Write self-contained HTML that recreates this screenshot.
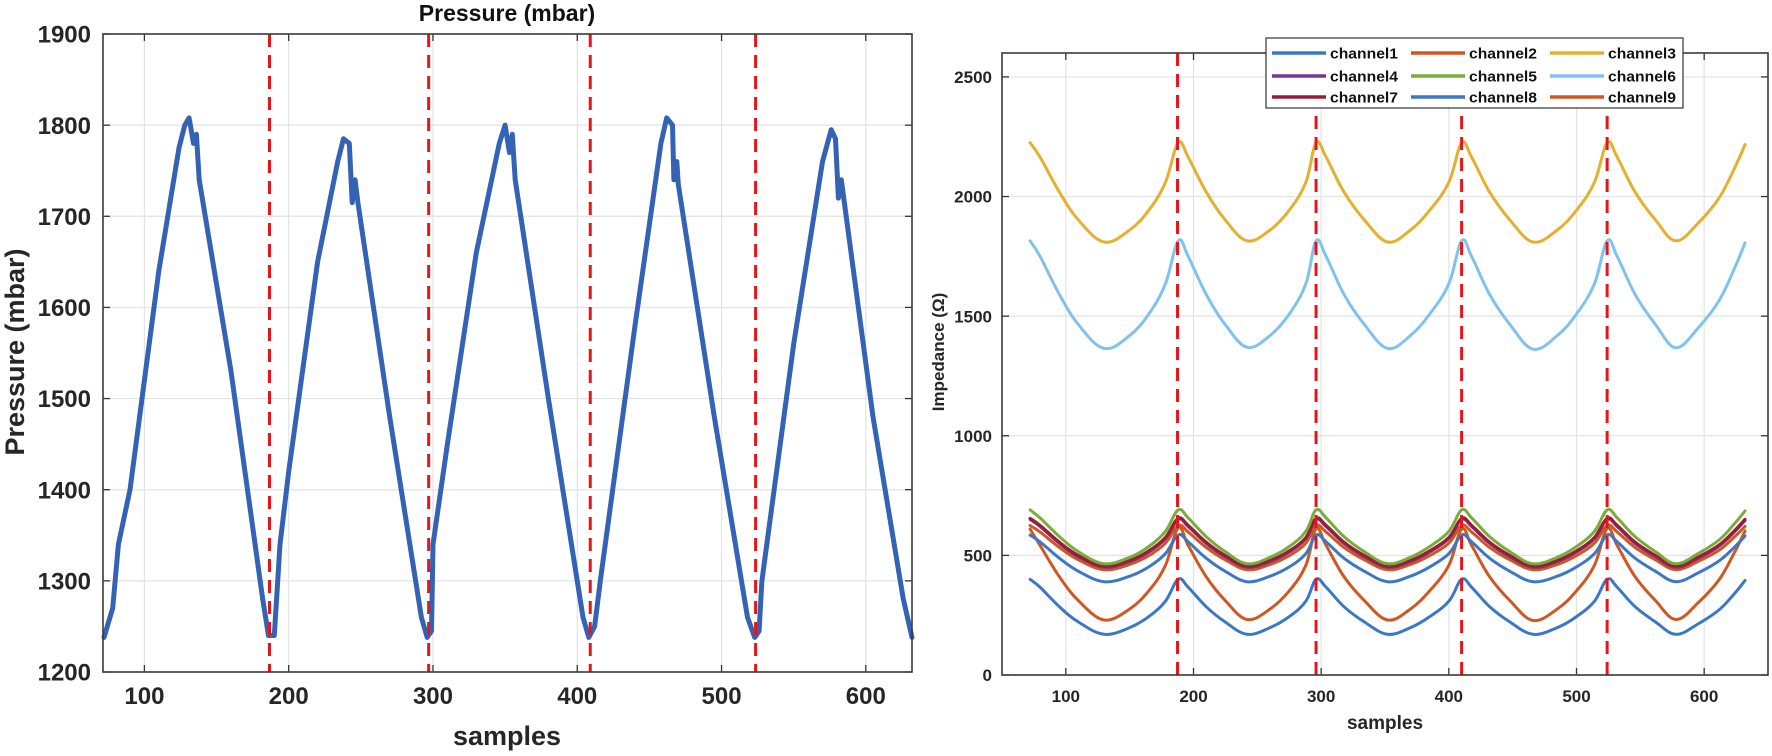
<!DOCTYPE html>
<html><head><meta charset="utf-8"><style>
html,body{margin:0;padding:0;background:#fff;}
svg{display:block;font-family:"Liberation Sans",Arial,sans-serif;}
</style></head><body>
<svg id="chart" width="1772" height="756" viewBox="0 0 1772 756"></svg>
<script>
// ---------- Left chart data ----------
const pressX=[72,78,82,90,110,124,128,131,134,136,138,160,182,186,190,194,200,220,234,238,242,244,246,248,270,292,296,299,300,310,330,346,350,353,355,357,380,404,408,412,416,440,458,462,466,467,469,470,495,518,523,526,528,550,570,576,579,581,583,605,626,632];
const pressY=[1238,1270,1340,1400,1640,1775,1800,1808,1780,1790,1740,1530,1280,1240,1240,1340,1420,1650,1760,1785,1780,1715,1740,1715,1480,1260,1238,1245,1340,1450,1660,1780,1800,1770,1790,1740,1500,1260,1238,1250,1300,1580,1780,1808,1800,1740,1760,1735,1480,1260,1238,1245,1300,1560,1760,1795,1785,1720,1740,1480,1280,1238];
const leftMarkers=[186.7,297,409,523.6];
const leftXTicks=[100,200,300,400,500,600];
const leftYTicks=[1200,1300,1400,1500,1600,1700,1800,1900];
// ---------- Right chart data ----------
const impX=[72,80,95,110,130,150,165,178,188,196,210,225,242,260,275,288,296,304,318,334,352,370,385,400,410,418,432,448,466,485,500,514,524,532,546,562,578,596,612,624,632];
const ch1=[400,366,285,221,170,198,244,308, 400,366,285,221,170,198,244,308, 400,366,285,221,170,198,244,308, 400,366,285,221,170,198,244,308, 400,366,285,221,170,216,274,342,395];
const ch2=[610,540,410,310,230,276,352,458, 615,540,410,310,232,276,352,458, 612,540,410,310,230,276,352,458, 610,540,410,310,228,276,352,458, 612,540,410,310,232,306,401,515,602];
const ch3=[2225,2163,2018,1901,1810,1860,1943,2059, 2225,2163,2018,1901,1815,1860,1943,2059, 2225,2163,2018,1901,1810,1860,1943,2059, 2225,2163,2018,1901,1810,1860,1943,2059, 2225,2163,2018,1901,1815,1893,1997,2121,2217];
const ch4=[650,620,550,494,450,474,514,570, 650,620,550,494,450,474,514,570, 650,620,550,494,450,474,514,570, 650,620,550,494,450,474,514,570, 650,620,550,494,450,490,540,600,646];
const ch5=[690,656,578,515,465,492,537,600, 690,656,578,515,465,492,537,600, 690,656,578,515,465,492,537,600, 690,656,578,515,465,492,537,600, 690,656,578,515,465,510,566,634,686];
const ch6=[1815,1748,1590,1464,1365,1419,1509,1635, 1815,1748,1590,1464,1370,1419,1509,1635, 1815,1748,1590,1464,1365,1419,1509,1635, 1815,1748,1590,1464,1362,1419,1509,1635, 1815,1748,1590,1464,1368,1455,1568,1703,1806];
const ch7=[655,625,555,499,455,479,519,575, 655,625,555,499,455,479,519,575, 655,625,555,499,455,479,519,575, 655,625,555,499,455,479,519,575, 655,625,555,499,455,495,545,605,651];
const ch8=[585,556,488,433,390,413,452,507, 585,556,488,433,390,413,452,507, 585,556,488,433,390,413,452,507, 585,556,488,433,390,413,452,507, 585,556,488,433,390,429,478,536,581];
const ch9=[625,597,533,481,440,462,499,551, 625,597,533,481,440,462,499,551, 625,597,533,481,440,462,499,551, 625,597,533,481,440,462,499,551, 625,597,533,481,440,477,523,579,621];
const channelNames=["channel1","channel2","channel3","channel4","channel5","channel6","channel7","channel8","channel9"];
const rightMarkers=[187.5,296,410,524];
const rightXTicks=[100,200,300,400,500,600];
const rightYTicks=[0,500,1000,1500,2000,2500];

const NS="http://www.w3.org/2000/svg";
const svg=document.getElementById('chart');
function mk(tag,attrs,parent){const e=document.createElementNS(NS,tag);for(const k in attrs)e.setAttribute(k,attrs[k]);(parent||svg).appendChild(e);return e;}

const L={x0:103,x1:912,y0:34,y1:672,xmin:71.3,xmax:632,ymin:1200,ymax:1900};
const R={x0:1002,x1:1768,y0:53,y1:675,xmin:50,xmax:650,ymin:0,ymax:2600};
function sx(a,v){return a.x0+(v-a.xmin)/(a.xmax-a.xmin)*(a.x1-a.x0);}
function sy(a,v){return a.y1-(v-a.ymin)/(a.ymax-a.ymin)*(a.y1-a.y0);}

function drawAxes(a,xt,yt,name,fs,xlabY,ylabRight){
  const g=mk('g',{});
  
  
  xt.forEach(v=>{const x=sx(a,v);
    const l=mk('line',{x1:x,x2:x,y1:a.y0,y2:a.y1,stroke:'#e3e3e3','stroke-width':1.2},g);
    
    mk('line',{x1:x,x2:x,y1:a.y1,y2:a.y1-7,stroke:'#333','stroke-width':1.3},g);
    mk('line',{x1:x,x2:x,y1:a.y0,y2:a.y0+7,stroke:'#333','stroke-width':1.3},g);
    const t=mk('text',{x:x,y:xlabY,'font-size':fs,'font-weight':'bold','text-anchor':'middle',fill:'#262626'},g);
    t.textContent=v;
  });
  yt.forEach(v=>{const y=sy(a,v);
    const l=mk('line',{x1:a.x0,x2:a.x1,y1:y,y2:y,stroke:'#e3e3e3','stroke-width':1.2},g);
    
    mk('line',{x1:a.x0,x2:a.x0+7,y1:y,y2:y,stroke:'#333','stroke-width':1.3},g);
    mk('line',{x1:a.x1,x2:a.x1-7,y1:y,y2:y,stroke:'#333','stroke-width':1.3},g);
    const t=mk('text',{x:ylabRight,y:y+fs*0.36,'font-size':fs,'font-weight':'bold','text-anchor':'end',fill:'#262626'},g);
    t.textContent=v;
  });
}
function drawBox(a,name){
  const r=mk('rect',{x:a.x0,y:a.y0,width:a.x1-a.x0,height:a.y1-a.y0,fill:'none',stroke:'#3a3a3a','stroke-width':1.6});
  
}
function line(a,xs,ys,color,w,name,smooth){
  const P=xs.map((x,i)=>[sx(a,x),sy(a,ys[i])]);
  let d='M'+P[0][0].toFixed(1)+' '+P[0][1].toFixed(1);
  for(let i=0;i<P.length-1;i++){
    if(!smooth){d+=' L'+P[i+1][0].toFixed(1)+' '+P[i+1][1].toFixed(1);continue;}
    const p0=P[Math.max(0,i-1)],p1=P[i],p2=P[i+1],p3=P[Math.min(P.length-1,i+2)];
    const k=0.18;
    const c1=[p1[0]+(p2[0]-p0[0])*k,p1[1]+(p2[1]-p0[1])*k];
    const c2=[p2[0]-(p3[0]-p1[0])*k,p2[1]-(p3[1]-p1[1])*k];
    d+=' C'+c1.map(v=>v.toFixed(1)).join(' ')+' '+c2.map(v=>v.toFixed(1)).join(' ')+' '+p2[0].toFixed(1)+' '+p2[1].toFixed(1);
  }
  const p=mk('path',{d:d,fill:'none',stroke:color,'stroke-width':w,'stroke-linejoin':'round','stroke-linecap':'round'});
  
}
function markers(a,ms,name){
  ms.forEach(v=>{const x=sx(a,v);
    const l=mk('line',{x1:x,x2:x,y1:a.y0,y2:a.y1,stroke:'#e8141a','stroke-width':3,'stroke-dasharray':'13 8'});
    
  });
}

// LEFT
drawAxes(L,leftXTicks,leftYTicks,'pressure',24,704,91);
line(L,pressX,pressY,'#3463b5',5,'pressure-line',false);
markers(L,leftMarkers,'pressure-marker-line');
drawBox(L,'pressure');
let t=mk('text',{x:507,y:21,'font-size':23,'font-weight':'bold','text-anchor':'middle',fill:'#111'});
t.textContent='Pressure (mbar)';
t=mk('text',{x:507,y:745,'font-size':27,'font-weight':'bold','text-anchor':'middle',fill:'#262626'});
t.textContent='samples';
t=mk('text',{x:0,y:0,'font-size':27,'font-weight':'bold','text-anchor':'middle',fill:'#262626',transform:'translate(24,352) rotate(-90)'});
t.textContent='Pressure (mbar)';

// RIGHT
drawAxes(R,rightXTicks,rightYTicks,'impedance',17,702,992);
const series=[ch1,ch2,ch3,ch4,ch5,ch6,ch7,ch8,ch9];
const colors=['#3a78c6','#cf5722','#e4b02e','#7b3590','#79ad3a','#80c2ee','#9a1c35','#3a78c6','#cf5722'];
const order=[2,5,0,1,7,8,3,6,4];
order.forEach(i=>line(R,impX,series[i],colors[i],3,channelNames[i]+'-line',true));
markers(R,rightMarkers,'impedance-marker-line');
drawBox(R,'impedance');
t=mk('text',{x:1385,y:729,'font-size':19,'font-weight':'bold','text-anchor':'middle',fill:'#262626'});
t.textContent='samples';
t=mk('text',{x:0,y:0,'font-size':17,'font-weight':'bold','text-anchor':'middle',fill:'#262626',transform:'translate(944,352) rotate(-90)'});
t.textContent='Impedance (Ω)';

// legend
const lg=mk('g',{});

mk('rect',{x:1266,y:38,width:417,height:70,fill:'#fff',stroke:'#333','stroke-width':1.2},lg);
const colX=[1272,1411,1550], rowY=[53,76,97];
channelNames.forEach((n,i)=>{
  const cx=colX[i%3], cy=rowY[Math.floor(i/3)];
  const e=mk('g',{},lg);
  
  mk('line',{x1:cx,x2:cx+54,y1:cy,y2:cy,stroke:colors[i],'stroke-width':3.5},e);
  const tt=mk('text',{x:cx+58,y:cy+5.5,'font-size':15,'font-weight':'bold',fill:'#111',textLength:68,lengthAdjust:'spacingAndGlyphs'},e);
  tt.textContent=n;
});
</script>
</body></html>
